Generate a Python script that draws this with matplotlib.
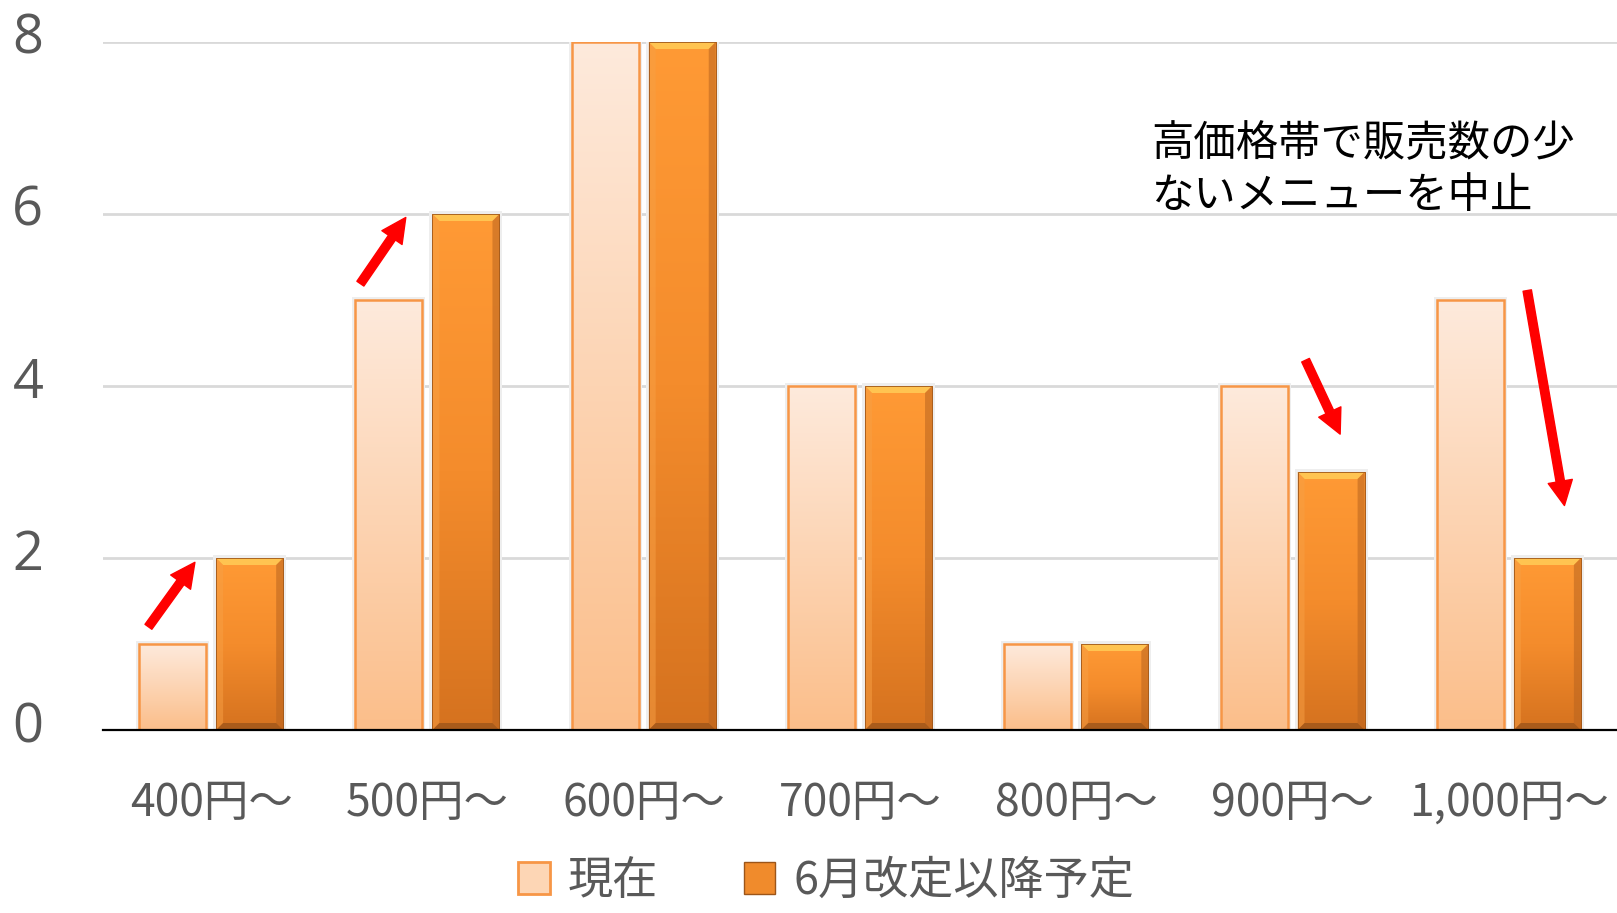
import numpy as np
import matplotlib
matplotlib.use('Agg')
import matplotlib.pyplot as plt
import matplotlib.transforms as mtransforms
from matplotlib.patches import Polygon, Rectangle, Patch
from matplotlib.colors import LinearSegmentedColormap

# Data
categories = ['400円〜', '500円〜', '600円〜', '700円〜', '800円〜', '900円〜', '1,000円〜']
current = [1, 5, 8, 4, 1, 4, 5]
planned = [2, 6, 8, 4, 1, 3, 2]
series_names = ['現在', '6月改定以降予定']
yticks = [0, 2, 4, 6, 8]
note = '高価格帯で販売数の少\nないメニューを中止'
# arrows (start, end) in data coordinates
arrows = [((-0.29, 1.20), (-0.075, 1.95)),
          ((0.69, 5.19), (0.90, 5.96)),
          ((5.06, 4.30), (5.22, 3.44)),
          ((6.085, 5.11), (6.257, 2.61))]

plt.rcParams['font.family'] = ['Noto Sans CJK JP', 'DejaVu Sans']

W, H = 1617, 913
fig = plt.figure(figsize=(W / 100, H / 100), dpi=100)
ax_left, ax_bottom, ax_top = 103, 730, 42
ax = fig.add_axes([ax_left / W, 1 - ax_bottom / H, 1 - ax_left / W, (ax_bottom - ax_top) / H])

x = np.arange(len(categories))
width = 0.31
offset = 0.178
xlim = (-0.5, len(categories) - 0.5)
ylim = (0, 8)

bars1 = ax.bar(x - offset, current, width, facecolor='none', edgecolor='#F79646', lw=1.8, zorder=4)
bars2 = ax.bar(x + offset, planned, width, facecolor='none', edgecolor='#9C5519', lw=0.6, zorder=4)

# pixel size in data units (for bevels / shadows)
ax_w_px = W - ax_left
ax_h_px = ax_bottom - ax_top
px_x = (xlim[1] - xlim[0]) / ax_w_px
px_y = (ylim[1] - ylim[0]) / ax_h_px

light_cmap = LinearSegmentedColormap.from_list('light', ['#FBBE8A', '#FEEADC'])
dark_cmap = LinearSegmentedColormap.from_list('dark', ['#D5721F', '#F48C2C', '#FF9A35'])
grad = np.linspace(0, 1, 256).reshape(-1, 1)


def shade(bar, cmap, z):
    x0, y0 = bar.get_x(), bar.get_y()
    x1, y1 = x0 + bar.get_width(), y0 + bar.get_height()
    # soft shadow
    ax.add_patch(Rectangle((x0 - 3 * px_x, 0), x1 - x0 + 6 * px_x, y1 + 3 * px_y,
                           facecolor='#EEEEEE', edgecolor='none', zorder=1.5))
    im = ax.imshow(grad, extent=[x0, x1, y0, y1], origin='lower', aspect='auto',
                   cmap=cmap, zorder=z, interpolation='bilinear')
    im.set_clip_path(bar)
    return x0, x1, y1


for b in bars1:
    shade(b, light_cmap, 2)

bev = 7
for b in bars2:
    x0, x1, y1 = shade(b, dark_cmap, 2)
    bx, by = bev * px_x, bev * px_y
    ax.add_patch(Polygon([(x0, y1), (x1, y1), (x1 - bx, y1 - by), (x0 + bx, y1 - by)],
                         facecolor='#FFC451', edgecolor='none', zorder=3))
    ax.add_patch(Polygon([(x1, y1), (x1, 0), (x1 - bx, by), (x1 - bx, y1 - by)],
                         facecolor='#B9641F', alpha=0.55, edgecolor='none', zorder=3))
    ax.add_patch(Polygon([(x0, y1), (x0, 0), (x0 + bx, by), (x0 + bx, y1 - by)],
                         facecolor='#F7A045', alpha=0.5, edgecolor='none', zorder=3))
    ax.add_patch(Polygon([(x0, 0), (x1, 0), (x1 - bx, by), (x0 + bx, by)],
                         facecolor='#9E561B', alpha=0.8, edgecolor='none', zorder=3))

ax.set_xlim(*xlim)
ax.set_ylim(*ylim)
ax.set_yticks(yticks)
ax.set_xticks(x)
ax.set_xticklabels(categories)
ax.tick_params(axis='both', length=0, colors='#595959')
ax.tick_params(axis='y', labelsize=39, pad=43)
ax.tick_params(axis='x', labelsize=32, pad=36)
lift = mtransforms.ScaledTranslation(0, 9 / 100, fig.dpi_scale_trans)
for lbl in ax.get_yticklabels():
    lbl.set_family(['Open Sans', 'DejaVu Sans'])
    lbl.set_transform(lbl.get_transform() + lift)
ax.yaxis.grid(True, color='#D9D9D9', lw=2)
ax.set_axisbelow(True)
for s in ax.spines.values():
    s.set_visible(False)
ax.axhline(0, color='black', lw=1.6, zorder=5, clip_on=False)

for (sx, sy), (ex, ey) in arrows:
    ax.annotate('', xy=(ex, ey), xytext=(sx, sy), annotation_clip=False,
                arrowprops=dict(arrowstyle='simple,head_length=1.1,head_width=1.1,tail_width=0.38',
                                color='#FF0000', shrinkA=0, shrinkB=0, mutation_scale=16),
                zorder=6)

fig.text(1151 / W, 1 - 122 / H, note, fontsize=30.5, color='black', va='top', ha='left',
         linespacing=1.24)

handles = [Patch(facecolor='#FDD6B5', edgecolor='#F79646', lw=2),
           Patch(facecolor='#F08B2C', edgecolor='#9C5519', lw=1)]
fig.legend(handles, series_names, loc='center', bbox_to_anchor=(826 / W, 1 - 881 / H),
           ncol=2, frameon=False, fontsize=32.5, handlelength=0.7, handleheight=0.7,
           columnspacing=1.9, handletextpad=0.4, labelcolor='#595959', borderpad=0)

fig.savefig('out.png', dpi=100)
